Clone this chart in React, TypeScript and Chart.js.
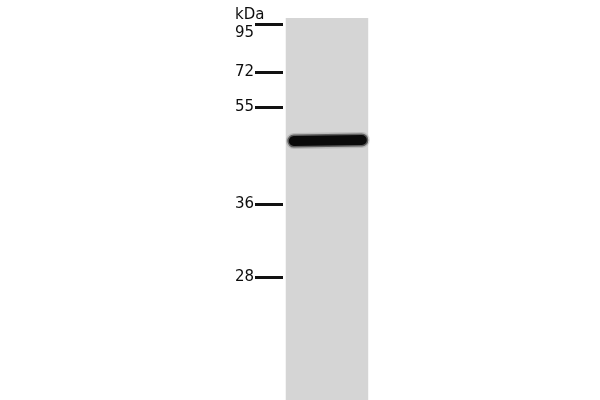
import React, { useEffect, useRef } from "react";
import { Chart, registerables } from "chart.js";

Chart.register(...registerables);

// molecular weight ladder and how far each marker ran (from top of image)
const markerLabels = ["95", "72", "55", "36", "28"];
const markerMigration = [24, 72, 107, 204, 277];

// the one sample lane (x in lane units, y in migration)
const laneEdges = [0.5, 1.5];
const laneTop = 18;
const gelBottom = 400;

// the detected band, just under the 55 kDa marker
const bandX = [0.6, 1.0, 1.42];
const bandMigration = [141, 140.5, 140];

const App: React.FC = (): JSX.Element => {
    const canvasRef = useRef<HTMLCanvasElement>(null);

    useEffect(() => {
        if (!canvasRef.current) return;
        const chart = initBlot(canvasRef.current);
        return () => chart.destroy();
    }, []);

    return (
        <div style={{ position: "absolute", left: 0, top: 0, width: 600, height: 400, background: "#fff" }}>
            <canvas ref={canvasRef}></canvas>
        </div>
    );
};

export default App;

// band drawn as a thick round-capped line, with fainter wider copies for the blur
const bandLayer = (data: { x: number; y: number }[], width: number, color: string, order: number) => ({
    data,
    borderWidth: width,
    borderColor: color,
    borderCapStyle: "round" as const,
    tension: 0.4,
    pointRadius: 0,
    fill: false,
    order,
});

function initBlot(dom: HTMLCanvasElement): Chart {
    const lane = laneEdges.map((x) => ({ x, y: laneTop }));
    const band = bandX.map((x, i) => ({ x, y: bandMigration[i] }));

    return new Chart(dom, {
        type: "line",
        data: {
            datasets: [
                {
                    data: lane,
                    borderWidth: 0,
                    borderColor: "rgba(0,0,0,0)",
                    backgroundColor: "#d5d5d5",
                    fill: { value: gelBottom },
                    pointRadius: 0,
                    order: 5,
                },
                bandLayer(band, 16, "rgba(60,60,60,0.18)", 4),
                bandLayer(band, 13, "rgba(20,20,20,0.55)", 3),
                bandLayer(band, 10, "#0a0a0a", 1),
            ],
        },
        options: {
            responsive: true,
            maintainAspectRatio: false,
            animation: false,
            layout: { padding: { left: 235, right: 0, top: 0, bottom: 0 } },
            plugins: {
                legend: { display: false },
                tooltip: { enabled: false },
            },
            scales: {
                x: {
                    type: "linear",
                    min: 0.47,
                    max: 4.29,
                    display: false,
                },
                y: {
                    type: "linear",
                    min: 0,
                    max: gelBottom,
                    reverse: true,
                    border: { display: false },
                    grid: {
                        drawOnChartArea: false,
                        drawTicks: true,
                        tickLength: 28,
                        tickWidth: 3,
                        lineWidth: 3,
                        tickColor: "#111",
                    },
                    ticks: {
                        padding: 2,
                        crossAlign: "far",
                        color: "#0d0d0d",
                        font: { family: "DejaVu Sans", size: 15, lineHeight: 1.15 },
                        callback: (value) => {
                            const i = markerMigration.indexOf(Number(value));
                            if (i < 0) return "";
                            return i === 0 ? ["kDa", markerLabels[i]] : markerLabels[i];
                        },
                    },
                    afterBuildTicks: (scale) => {
                        scale.ticks = markerMigration.map((value) => ({ value }));
                    },
                    afterFit: (scale) => {
                        // keep the gel at full height, no room reserved for label overhang
                        scale.width = 48;
                        scale.paddingTop = 0;
                        scale.paddingBottom = 0;
                    },
                },
            },
        },
    });
}
